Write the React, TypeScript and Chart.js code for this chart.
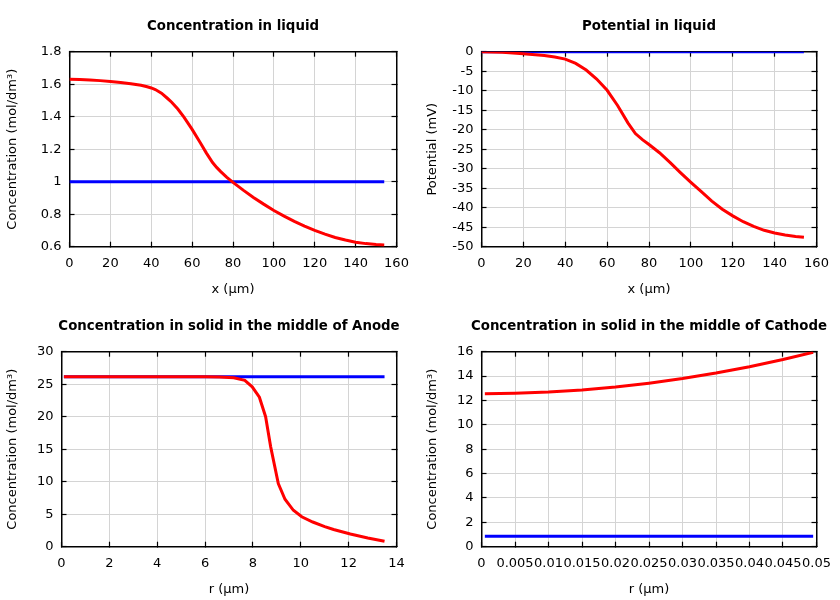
import React, { useEffect, useRef } from "react";
import { Chart, registerables } from "chart.js";

Chart.register(...registerables);

const FONT = "'DejaVu Sans', sans-serif";

// ---- Panel 1: Concentration in liquid ----
const liqConcX = [0, 5, 10, 15, 20, 25, 30, 35, 38, 40, 42, 45, 48, 50, 53, 56, 60, 64, 67, 70, 72, 74, 77, 80, 85, 90, 95, 100, 105, 110, 115, 120, 125, 130, 135, 140, 145, 150, 154];
const liqConcRed = [1.63, 1.629, 1.626, 1.622, 1.617, 1.611, 1.603, 1.593, 1.584, 1.577, 1.567, 1.545, 1.512, 1.489, 1.447, 1.397, 1.322, 1.24, 1.176, 1.118, 1.088, 1.062, 1.027, 0.996, 0.948, 0.903, 0.862, 0.823, 0.788, 0.756, 0.727, 0.7, 0.677, 0.657, 0.641, 0.628, 0.619, 0.613, 0.611];
const liqConcBlueX = [0, 154];
const liqConcBlue = [1.0, 1.0];

// ---- Panel 2: Potential in liquid ----
const potX = [0, 10, 20, 30, 35, 40, 45, 50, 55, 60, 65, 70, 73.5, 77, 80, 85, 90, 95, 100, 105, 110, 115, 120, 125, 130, 135, 140, 145, 150, 154];
const potRed = [0, -0.15, -0.5, -1.0, -1.35, -1.9, -3.0, -4.7, -7.0, -9.9, -13.8, -18.3, -21.0, -22.6, -23.8, -25.9, -28.4, -31.0, -33.5, -35.9, -38.3, -40.4, -42.1, -43.6, -44.8, -45.8, -46.5, -47.0, -47.4, -47.6];
const potBlueX = [0, 154];
const potBlue = [0, 0];

// ---- Panel 3: Concentration in solid, anode ----
const anodeR = [0.1, 1, 2, 3, 4, 5, 6, 6.6, 7.2, 7.66, 7.97, 8.27, 8.53, 8.74, 9.06, 9.34, 9.69, 10.04, 10.5, 11.0, 11.37, 12.07, 12.8, 13.5];
const anodeRed = [26.15, 26.15, 26.15, 26.15, 26.15, 26.15, 26.14, 26.12, 26.0, 25.6, 24.6, 23.0, 20.0, 15.4, 9.7, 7.3, 5.6, 4.6, 3.8, 3.1, 2.65, 1.95, 1.35, 0.85];
const anodeBlueR = [0.1, 13.5];
const anodeBlue = [26.15, 26.15];

// ---- Panel 4: Concentration in solid, cathode ----
const cathR = [0.0005, 0.005, 0.01, 0.015, 0.02, 0.025, 0.03, 0.035, 0.04, 0.045, 0.0495];
const cathRed = [12.55, 12.59, 12.69, 12.86, 13.1, 13.42, 13.8, 14.25, 14.77, 15.36, 15.95];
const cathBlueR = [0.0005, 0.0495];
const cathBlue = [0.85, 0.85];

const pts = (xs: number[], ys: number[]) => xs.map((x, i) => ({ x, y: ys[i] }));

const fmt = (v: number | string) => String(Math.round(Number(v) * 1e6) / 1e6);

type PanelProps = {
  left: number;
  top: number;
  title: string;
  xTitle: string;
  yTitle: string;
  xMin: number;
  xMax: number;
  xStep: number;
  yMin: number;
  yMax: number;
  yStep: number;
  plotLeft: number;
  red: { x: number; y: number }[];
  blue: { x: number; y: number }[];
};

const H = 300;
const PLOT_RIGHT = 396.5;
const PLOT_TOP = 51.7;
const PLOT_BOTTOM = 246.7;
const TITLE_FS = 13.33;
const TITLE_PAD_TOP = 18.3;
const LABEL_FS = 13;

const zeroPad = (s: any) => {
  s.paddingLeft = 0;
  s.paddingRight = 0;
  s.paddingTop = 0;
  s.paddingBottom = 0;
};

function Panel(p: PanelProps) {
  const ref = useRef<HTMLCanvasElement>(null);
  // canvas is made symmetric around the plot centre so the full-width title is centred on the plot
  const W = Math.round(p.plotLeft + PLOT_RIGHT);
  useEffect(() => {
    const canvas = ref.current;
    if (!canvas) return;
    const gridCommon = {
      color: "#d4d4d4",
      lineWidth: 1,
      tickColor: "#000",
      tickLength: -5,
      tickWidth: 1.2,
    };
    const border = { color: "#000", width: 1.5 };
    const tickFont = { family: FONT, size: LABEL_FS };
    const chart = new Chart(canvas, {
      type: "line",
      data: {
        datasets: [
          {
            data: p.red,
            borderColor: "#ff0000",
            backgroundColor: "#ff0000",
            borderWidth: 3,
            pointRadius: 0,
            tension: 0,
            fill: false,
          },
          {
            data: p.blue,
            borderColor: "#0000ff",
            backgroundColor: "#0000ff",
            borderWidth: 3,
            pointRadius: 0,
            tension: 0,
            fill: false,
          },
        ],
      },
      options: {
        responsive: false,
        animation: false,
        devicePixelRatio: 1,
        layout: { padding: 0 },
        plugins: {
          legend: { display: false },
          tooltip: { enabled: false },
          title: {
            display: true,
            text: p.title,
            fullSize: true,
            color: "#000",
            font: { family: FONT, size: TITLE_FS, weight: "bold", lineHeight: 1.2 },
            padding: { top: TITLE_PAD_TOP, bottom: PLOT_TOP - TITLE_PAD_TOP - TITLE_FS * 1.2 },
          },
        },
        scales: {
          x: {
            type: "linear",
            position: "bottom",
            min: p.xMin,
            max: p.xMax,
            ticks: {
              stepSize: p.xStep,
              autoSkip: false,
              maxRotation: 0,
              minRotation: 0,
              padding: 13.8,
              color: "#000",
              font: tickFont,
              callback: (v: any) => fmt(v),
            },
            grid: gridCommon,
            border,
            title: {
              display: true,
              text: p.xTitle,
              color: "#000",
              font: { family: FONT, size: LABEL_FS },
              padding: { top: 0, bottom: 2.5 },
            },
            afterFit: (s: any) => {
              s.height = H - PLOT_BOTTOM;
              zeroPad(s);
            },
          },
          x2: {
            type: "linear",
            position: "top",
            min: p.xMin,
            max: p.xMax,
            ticks: { stepSize: p.xStep, display: false, autoSkip: false },
            grid: { ...gridCommon, drawOnChartArea: false },
            border,
            afterFit: (s: any) => {
              s.height = 0;
              zeroPad(s);
            },
          },
          y: {
            type: "linear",
            position: "left",
            min: p.yMin,
            max: p.yMax,
            ticks: {
              stepSize: p.yStep,
              autoSkip: false,
              padding: 13,
              color: "#000",
              font: tickFont,
              callback: (v: any) => fmt(v),
            },
            grid: gridCommon,
            border,
            title: {
              display: true,
              text: p.yTitle,
              color: "#000",
              font: { family: FONT, size: LABEL_FS },
              padding: { top: 5.2, bottom: 0 },
            },
            afterFit: (s: any) => {
              s.width = p.plotLeft;
              zeroPad(s);
            },
          },
          y2: {
            type: "linear",
            position: "right",
            min: p.yMin,
            max: p.yMax,
            ticks: { stepSize: p.yStep, display: false, autoSkip: false },
            grid: { ...gridCommon, drawOnChartArea: false },
            border,
            afterFit: (s: any) => {
              s.width = W - PLOT_RIGHT;
              zeroPad(s);
            },
          },
        },
      } as any,
    });
    return () => chart.destroy();
  }, []);
  return (
    <canvas
      ref={ref}
      width={W}
      height={H}
      style={{ position: "absolute", left: p.left, top: p.top, width: W, height: H }}
    />
  );
}

export default function App() {
  return (
    <div
      style={{
        position: "absolute",
        left: 0,
        top: 0,
        width: 840,
        height: 600,
        overflow: "hidden",
        background: "#fff",
      }}
    >
      <Panel
        left={0}
        top={0}
        title="Concentration in liquid"
        xTitle="x (µm)"
        yTitle="Concentration (mol/dm³)"
        xMin={0}
        xMax={160}
        xStep={20}
        yMin={0.6}
        yMax={1.8}
        yStep={0.2}
        plotLeft={69.5}
        red={pts(liqConcX, liqConcRed)}
        blue={pts(liqConcBlueX, liqConcBlue)}
      />
      <Panel
        left={420}
        top={0}
        title="Potential in liquid"
        xTitle="x (µm)"
        yTitle="Potential (mV)"
        xMin={0}
        xMax={160}
        xStep={20}
        yMin={-50}
        yMax={0}
        yStep={5}
        plotLeft={61.5}
        red={pts(potX, potRed)}
        blue={pts(potBlueX, potBlue)}
      />
      <Panel
        left={0}
        top={300}
        title="Concentration in solid in the middle of Anode"
        xTitle="r (µm)"
        yTitle="Concentration (mol/dm³)"
        xMin={0}
        xMax={14}
        xStep={2}
        yMin={0}
        yMax={30}
        yStep={5}
        plotLeft={61.5}
        red={pts(anodeR, anodeRed)}
        blue={pts(anodeBlueR, anodeBlue)}
      />
      <Panel
        left={420}
        top={300}
        title="Concentration in solid in the middle of Cathode"
        xTitle="r (µm)"
        yTitle="Concentration (mol/dm³)"
        xMin={0}
        xMax={0.05}
        xStep={0.005}
        yMin={0}
        yMax={16}
        yStep={2}
        plotLeft={61.5}
        red={pts(cathR, cathRed)}
        blue={pts(cathBlueR, cathBlue)}
      />
    </div>
  );
}
